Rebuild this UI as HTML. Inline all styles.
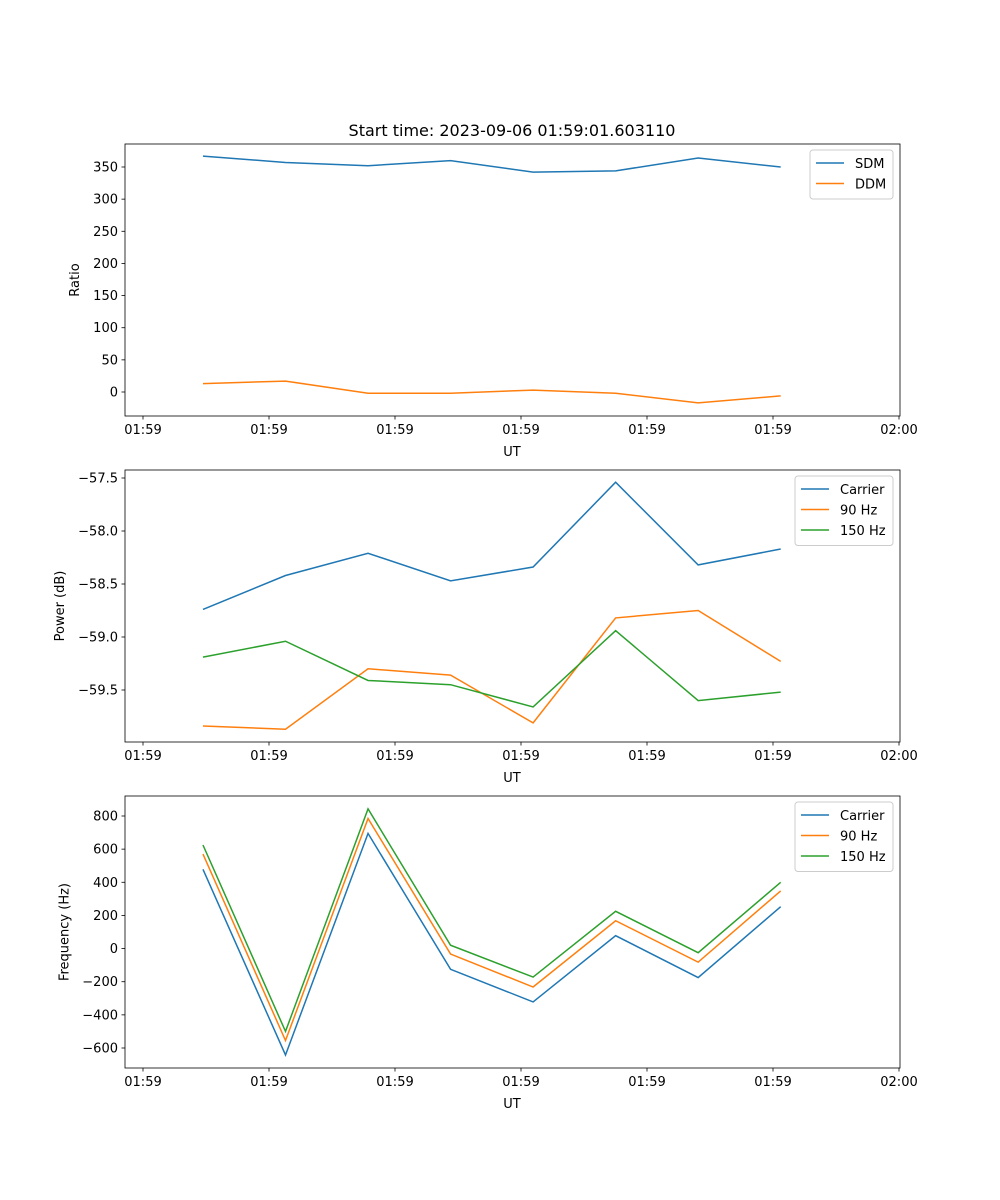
<!DOCTYPE html>
<html><head><meta charset="utf-8"><style>
html,body{margin:0;padding:0;background:#fff}
svg{display:block;font-family:"DejaVu Sans","Liberation Sans",sans-serif}
</style></head><body>
<svg id="fig" width="1000" height="1200" xmlns="http://www.w3.org/2000/svg">
<text x="512" y="136" font-size="16" text-anchor="middle">Start time: 2023-09-06 01:59:01.603110</text>
</svg>
<script>
// shared time axis (seconds after 01:59:00)
const times = [4.76, 11.31, 17.86, 24.41, 30.96, 37.51, 44.06, 50.61];
const xTickVals = [0, 10, 20, 30, 40, 50, 60];
const xTickLabels = ["01:59","01:59","01:59","01:59","01:59","01:59","02:00"];
// panel 1
const ratioTicks = [0, 50, 100, 150, 200, 250, 300, 350];
const sdm = [367, 357, 352, 360, 342, 344, 364, 350];
const ddm = [13, 17, -2, -2, 3, -2, -17, -6];
// panel 2
const powerTicks = [-59.5, -59.0, -58.5, -58.0, -57.5];
const powCarrier = [-58.74, -58.42, -58.21, -58.47, -58.34, -57.54, -58.32, -58.17];
const pow90 = [-59.84, -59.87, -59.30, -59.36, -59.81, -58.82, -58.75, -59.23];
const pow150 = [-59.19, -59.04, -59.41, -59.45, -59.66, -58.94, -59.60, -59.52];
// panel 3
const freqTicks = [-600, -400, -200, 0, 200, 400, 600, 800];
const freqCarrier = [478, -642, 695, -125, -322, 78, -175, 253];
const freq90 = [570, -555, 785, -33, -232, 168, -82, 348];
const freq150 = [625, -500, 843, 20, -172, 225, -25, 400];

const NS = "http://www.w3.org/2000/svg";
const svg = document.getElementById("fig");
function el(tag, attrs, parent){const e=document.createElementNS(NS,tag);for(const k in attrs)e.setAttribute(k,attrs[k]);(parent||svg).appendChild(e);return e;}
const L=125,R=900;
function xs(t){return 143+t*12.6;}

function panel(name, top, bottom, y0val, y0px, y1val, y1px, ticks, decimals, ylabel, series, legend){
  const g=el('g',{});
  
  
  const ys=v=>y0px+(v-y0val)*(y1px-y0px)/(y1val-y0val);
  series.forEach(s=>{
    const p=el('polyline',{points:s.data.map((v,i)=>xs(times[i])+','+ys(v)).join(' '),fill:'none',stroke:s.color,'stroke-width':1.5},g);
    
    
  });
  const f=el('rect',{x:L,y:top,width:R-L,height:bottom-top,fill:'none',stroke:'#000','stroke-width':0.8},g);
  
  
  xTickVals.forEach((t,i)=>{
    const x=xs(t);
    el('line',{x1:x,x2:x,y1:bottom,y2:bottom+3.5,stroke:'#000','stroke-width':0.8},g);
    const tx=el('text',{x:x,y:bottom+18,'font-size':13,'text-anchor':'middle'},g);
    tx.textContent=xTickLabels[i];
    
    
  });
  const xl=el('text',{x:512,y:bottom+40,'font-size':13,'text-anchor':'middle'},g);
  xl.textContent='UT';
  
  
  let minx=L;
  ticks.forEach(v=>{
    const y=ys(v);
    el('line',{x1:L-3.5,x2:L,y1:y,y2:y,stroke:'#000','stroke-width':0.8},g);
    const tx=el('text',{x:L-7,y:y+4.5,'font-size':13,'text-anchor':'end'},g);
    tx.textContent=v.toFixed(decimals).replace('-','\u2212');
    
    
    try{minx=Math.min(minx,tx.getBBox().x);}catch(e){}
  });
  const yx=minx-14;
  const yl=el('text',{x:yx,y:(top+bottom)/2,'font-size':13,'text-anchor':'middle',transform:`rotate(-90 ${yx} ${(top+bottom)/2})`},g);
  yl.textContent=ylabel;
  
  
  const lg=el('g',{},g);
  
  
  el('rect',{x:legend.x,y:top+6,width:R-7-legend.x,height:series.length*20.5+8,rx:3,fill:'#fff','fill-opacity':0.8,stroke:'#ccc','stroke-width':1},lg);
  series.forEach((s,i)=>{
    const y=top+19+i*20.5;
    el('line',{x1:legend.x+6,x2:legend.x+34,y1:y,y2:y,stroke:s.color,'stroke-width':1.5},lg);
    const t=el('text',{x:legend.x+45,y:y+5,'font-size':13},lg);
    t.textContent=s.label;
    
    
  });
}
panel('ratio-panel',144,416,0,392,350,167,ratioTicks,0,'Ratio',
  [{name:'sdm',label:'SDM',color:'#1f77b4',data:sdm},{name:'ddm',label:'DDM',color:'#ff7f0e',data:ddm}],{x:810});
panel('power-panel',470,742,-59.5,690,-57.5,478,powerTicks,1,'Power (dB)',
  [{name:'carrier',label:'Carrier',color:'#1f77b4',data:powCarrier},{name:'90hz',label:'90 Hz',color:'#ff7f0e',data:pow90},{name:'150hz',label:'150 Hz',color:'#2ca02c',data:pow150}],{x:795});
panel('frequency-panel',796,1068,-600,1048,800,816,freqTicks,0,'Frequency (Hz)',
  [{name:'carrier',label:'Carrier',color:'#1f77b4',data:freqCarrier},{name:'90hz',label:'90 Hz',color:'#ff7f0e',data:freq90},{name:'150hz',label:'150 Hz',color:'#2ca02c',data:freq150}],{x:795});
</script>
</body></html>
